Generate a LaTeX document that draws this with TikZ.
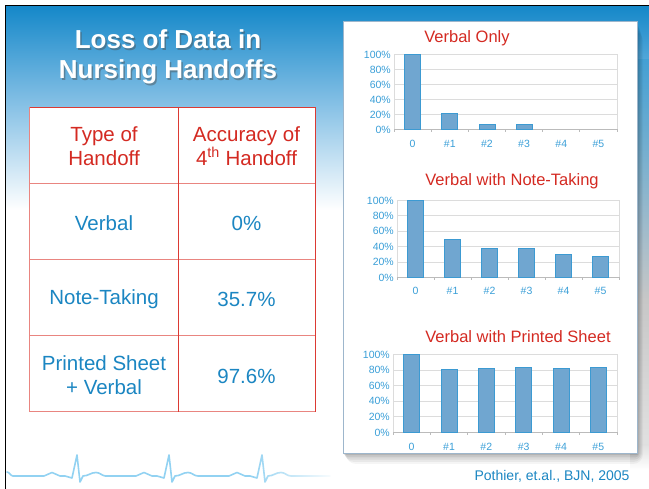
\documentclass[tikz,border=0pt]{standalone}
\usepackage{fontspec}
\setmainfont{Liberation Sans}
\usetikzlibrary{fadings}

\definecolor{slidered}{HTML}{D42A22}
\definecolor{slideblue}{HTML}{1B86C2}
\definecolor{axisblue}{HTML}{3A9FD8}
\definecolor{bandtop}{HTML}{1588C9}
\definecolor{bandmid}{HTML}{7BBBE3}
\definecolor{tablered}{HTML}{DC3A33}
\definecolor{tablepink}{HTML}{E98580}
\definecolor{barfill}{HTML}{70A6D0}
\definecolor{baredge}{HTML}{3C9AD2}
\definecolor{gridgray}{HTML}{DCDCDC}
\definecolor{ecgblue}{HTML}{92D2F2}
\definecolor{paneledge}{HTML}{9DB6CC}

\tikzset{
  grid/.style={draw=gridgray, line width=0.8pt},
  axisline/.style={draw=gridgray!85!black, line width=0.8pt},
  barbox/.style={fill=barfill, draw=baredge, line width=0.7pt},
  ylab/.style={text=axisblue, font=\fontsize{10.5}{12}\selectfont, inner sep=0pt},
  xlab/.style={text=axisblue, font=\fontsize{10.5}{12}\selectfont, inner sep=0pt},
  charttitle/.style={text=slidered, font=\fontsize{16.5}{19}\selectfont, inner sep=0pt},
  tablehead/.style={text=slidered, font=\fontsize{20.5}{23.5}\selectfont, align=center, inner sep=0pt},
  tablecell/.style={text=slideblue, font=\fontsize{20.5}{23.5}\selectfont, align=center, inner sep=0pt},
  tableline/.style={draw=tablered, line width=0.9pt},
  tablesoft/.style={draw=tablepink, line width=1pt},
  titletext/.style={text=white, font=\fontsize{26}{30}\bfseries\selectfont, align=center, inner sep=0pt},
  titleshadow/.style={text=black!70, opacity=0.45, font=\fontsize{26}{30}\bfseries\selectfont, align=center, inner sep=0pt},
  ecg/.style={draw=ecgblue, line width=1.6pt, line join=round, line cap=round},
}

% One bar chart: #1 name prefix, #2 left x, #3 right x, #4 y of 100%, #5 y of 0%,
% #6 y of category labels, #7 bar values in percent
\newcommand\drawbarchart[7]{%
  \pgfmathsetmacro\chcw{(#3-#2)/6}%
  \foreach \i in {1,...,5}{%
    \pgfmathsetmacro\gy{#5+(#4-#5)*\i/5}%
    \draw[grid] (#2,\gy) -- (#3,\gy);
  }
  \draw[grid] (#2,#4) -- (#2,#5);
  \draw[grid] (#3,#4) -- (#3,#5);
  \draw[axisline] (#2,#5) -- (#3,#5);
  \foreach \k in {0,...,6}{%
    \pgfmathsetmacro\tx{#2+\k*\chcw}%
    \draw[axisline] (\tx,#5) -- (\tx,#5+3);
  }
  \foreach \i in {0,...,5}{%
    \pgfmathsetmacro\gy{#5+(#4-#5)*\i/5}%
    \pgfmathtruncatemacro\pc{20*\i}%
    \node[ylab, anchor=east] (#1y\i) at (#2-3,\gy) {\pc\%};
  }
  \foreach \v [count=\k from 0] in {#7}{%
    \pgfmathsetmacro\cx{#2+(\k+0.5)*\chcw}%
    \pgfmathsetmacro\by{#5+(#4-#5)*\v/100}%
    \ifdim\v pt>0pt \draw[barbox] (\cx-8,#5) rectangle (\cx+8,\by); \fi
    \node[xlab] (#1x\k) at (\cx,#6) {\ifnum\k=0 0\else\#\k\fi};
  }
}

\begin{document}
\begin{tikzpicture}[x=1pt, y=-1pt]
\useasboundingbox (0,0) rectangle (649,489);
\fill[white] (0,0) rectangle (649,489);

% blue header band fading into the white slide
\shade[top color=bandtop, bottom color=bandmid] (6,6) rectangle (649,95);
\shade[top color=bandmid, bottom color=white] (6,95) rectangle (649,210);
% strip at the right edge, behind the chart panel
\shade[top color=bandtop!80!white, bottom color=black!22!white] (630,60) rectangle (649,300);
\shade[top color=black!22!white, bottom color=black!12!white] (630,300) rectangle (649,445);
\shade[top color=black!12!white, bottom color=white] (630,445) rectangle (649,470);

% slide frame
\draw[black, line width=1.6pt] (5.5,489) -- (5.5,5.5) -- (649,5.5);

% title
\node[titleshadow] (titleshade) at (169.5,58.5) {Loss of Data in\\Nursing Handoffs};
\node[titletext] (title) at (168,57) {Loss of Data in\\Nursing Handoffs};

% comparison table
\fill[white] (29.5,107) rectangle (315,412);
\draw[tablesoft] (29.5,107) -- (29.5,412) -- (315,412);
\draw[tablesoft] (29.5,183.5) -- (315,183.5);
\draw[tablesoft] (29.5,260) -- (315,260);
\draw[tablesoft] (29.5,336) -- (315,336);
\draw[tableline] (29.5,107) -- (315,107) -- (315,412);
\draw[tableline] (178,107) -- (178,412);
\node[tablehead] (h1) at (104,146) {Type of\\Handoff};
\node[tablehead] (h2) at (246.5,146) {Accuracy of\\4\textsuperscript{th} Handoff};
\node[tablecell] (r1a) at (104,223) {Verbal};
\node[tablecell] (r1b) at (246.5,223) {0\%};
\node[tablecell] (r2a) at (104,299) {Note-Taking};
\node[tablecell] (r2b) at (246.5,299) {35.7\%};
\node[tablecell] (r3a) at (104,375) {Printed Sheet\\+ Verbal};
\node[tablecell] (r3b) at (246.5,376) {97.6\%};

% chart panel with soft shadow
\foreach \s/\o in {10/0.04,8/0.05,6/0.06,4/0.08,2/0.10}{
  \fill[black, opacity=\o, rounded corners=\s pt] (343+\s*0.3,21+\s) rectangle (637+\s*0.6,453+\s*1.1);
}
\fill[white] (343,21) rectangle (637,453);
\draw[paneledge, line width=0.8pt] (343,21) rectangle (637,453);

\node[charttitle] (t1) at (467,38) {Verbal Only};
\drawbarchart{a}{394}{617}{54.5}{129.5}{144}{100,22,7,7,0,0}

\node[charttitle] (t2) at (512,181) {Verbal with Note-Taking};
\drawbarchart{b}{397}{619}{200.5}{277.5}{291}{100,50,38,38,30,27}

\node[charttitle] (t3) at (518,337) {Verbal with Printed Sheet};
\drawbarchart{c}{393}{617}{354.5}{432.5}{446.5}{100,81,82,84,82,84}

\node[text=slideblue, font=\fontsize{14}{16}\selectfont, inner sep=0pt] (cite) at (552,476) {Pothier, et.al., BJN, 2005};

% heartbeat trace along the bottom
\draw[ecg] (7,472)
  \foreach \b in {0,92,185}{
    -- ++(0,0)
    to[out=0,in=180] (\b+13,476)
    -- (\b+44,476)
    to[out=0,in=180] (\b+52,472.5)
    to[out=0,in=180] (\b+60,476)
    -- (\b+65,476) -- (\b+72,478) -- (\b+77,455) -- (\b+80,482) -- (\b+83,476)
    to[out=0,in=180] (\b+96,472.5)
    to[out=0,in=180] (\b+106,476)
  } -- (330,476);
\fill[white, path fading=west] (250,450) rectangle (336,486);
\end{tikzpicture}
\end{document}
